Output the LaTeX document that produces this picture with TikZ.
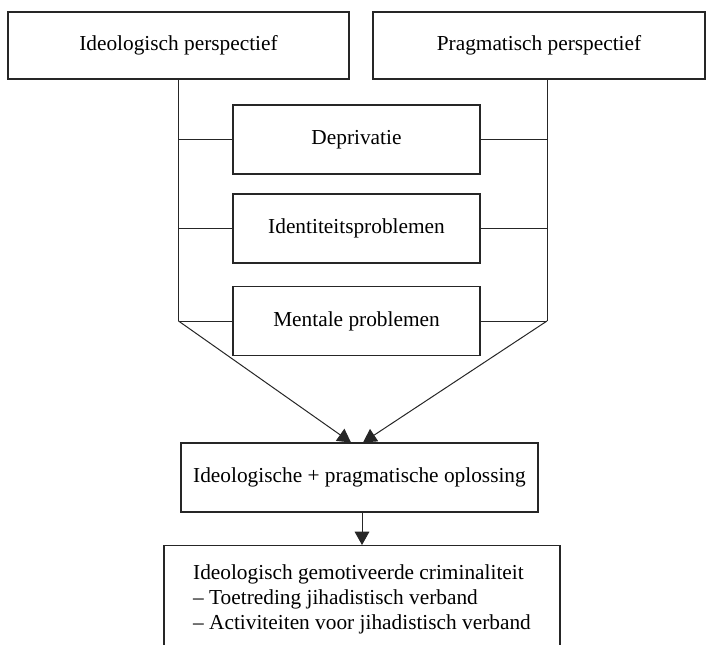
\documentclass[tikz,border=0pt]{standalone}
\usepackage{fontspec}
\setmainfont{Liberation Serif}
\usetikzlibrary{arrows.meta,calc}
\begin{document}
\begin{tikzpicture}[x=0.75pt,y=-0.75pt,
  box/.style={draw=black!85, line width=0.8pt, inner sep=0pt, font=\fontsize{16}{19}\selectfont},
  midbox/.style={box, minimum width=185.25pt, minimum height=51.75pt},
  line/.style={draw=black!85, line width=0.75pt},
  tip/.style={-{Triangle[length=10pt,width=11pt]}}]
\clip (0,0) rectangle (706,645);
\node[box, minimum width=255.75pt, minimum height=50.25pt] (ideo) at (178.5,45.5) {Ideologisch perspectief};
\node[box, minimum width=249pt, minimum height=50.25pt] (prag) at (539,45.5) {Pragmatisch perspectief};
\node[midbox] (depr) at (356.5,139.5) {Deprivatie};
\node[midbox] (iden) at (356.5,228.5) {Identiteitsproblemen};
\node[midbox] (ment) at (356.5,321) {Mentale problemen};
\node[box, minimum width=267.75pt, minimum height=51.75pt] (oplos) at (359.5,477.5) {Ideologische + pragmatische oplossing};
\node[box, anchor=north, inner ysep=14pt, minimum width=297pt, align=left, text depth=60pt] (crim) at (362,545)
  {Ideologisch gemotiveerde criminaliteit\\
   -- Toetreding jihadistisch verband\\
   -- Activiteiten voor jihadistisch verband};

\coordinate (pragbot) at ($(prag.south)+(8,0)$);
\coordinate (lhoek) at (ment.west -| ideo.south);
\coordinate (rhoek) at (ment.east -| pragbot);
\coordinate (ltip) at ($(oplos.north)+(-8.5,0)$);
\coordinate (rtip) at ($(oplos.north)+(3.5,0)$);

\path[line] (ideo.south) -- (lhoek);
\path[line] (pragbot) -- (rhoek);
\path[line] (depr.west -| lhoek) -- (depr.west);
\path[line] (depr.east) -- (depr.east -| rhoek);
\path[line] (iden.west -| lhoek) -- (iden.west);
\path[line] (iden.east) -- (iden.east -| rhoek);
\path[line] (lhoek) -- (ment.west);
\path[line] (ment.east) -- (rhoek);

\path[line,tip] (lhoek) -- (ltip);
\path[line,tip] (rhoek) -- (rtip);
\path[line,tip] (oplos.south -| crim.north) -- (crim.north);
\end{tikzpicture}
\end{document}
